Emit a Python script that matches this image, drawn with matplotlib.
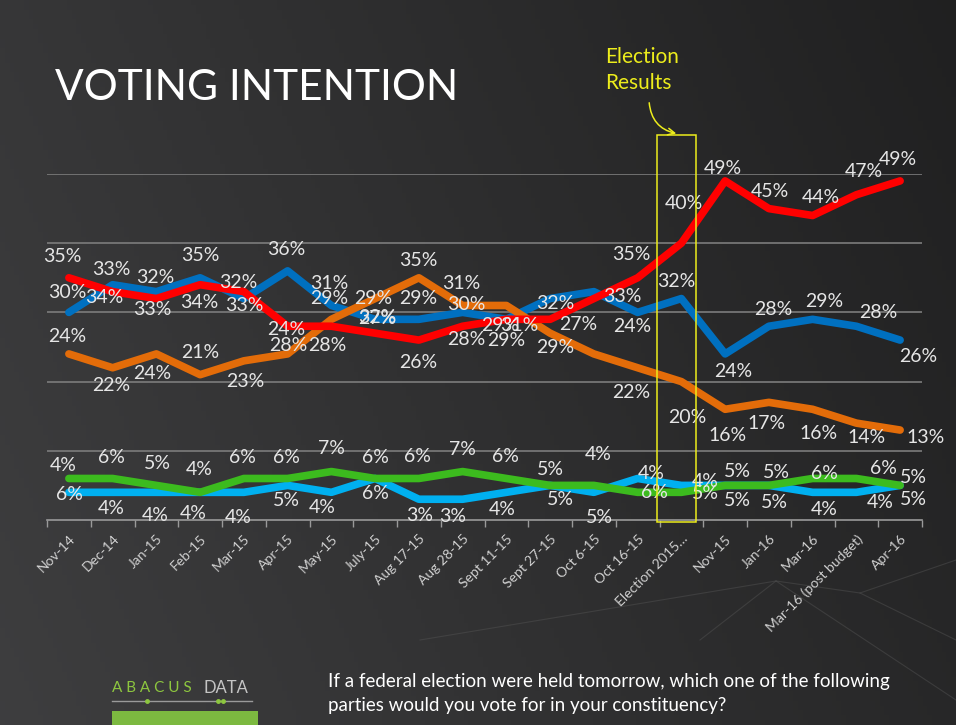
import numpy as np
import matplotlib.pyplot as plt
from matplotlib.patches import Rectangle, FancyArrowPatch

# Voting intention, Nov-14 to Apr-16 (percent)
categories = ["Nov-14", "Dec-14", "Jan-15", "Feb-15", "Mar-15", "Apr-15", "May-15",
              "July-15", "Aug 17-15", "Aug 28-15", "Sept 11-15", "Sept 27-15",
              "Oct 6-15", "Oct 16-15", "Election 2015…", "Nov-15", "Jan-16",
              "Mar-16", "Mar-16 (post budget)", "Apr-16"]
liberal = [35, 33, 32, 34, 33, 28, 28, 27, 26, 28, 29, 29, 32, 35, 40, 49, 45, 44, 47, 49]
conservative = [30, 34, 33, 35, 32, 36, 31, 29, 29, 30, 29, 32, 33, 30, 32, 24, 28, 29, 28, 26]
ndp = [24, 22, 24, 21, 23, 24, 29, 32, 35, 31, 31, 27, 24, 22, 20, 16, 17, 16, 14, 13]
green = [6, 6, 5, 4, 6, 6, 7, 6, 6, 7, 6, 5, 5, 4, 4, 5, 5, 6, 6, 5]
bloc = [4, 4, 4, 4, 4, 5, 4, 6, 3, 3, 4, 5, 4, 6, 5, 5, 5, 4, 4, 5]

# data label offsets in pixels (dx, dy down), None = no label shown
liberal_off = [(-7, -21), (-1, -22), (-1, -21), (-1, 18), (0, 14), (1, 19), (-4, 19), (2, -15),
               (-1, 22), (4, 13), (0, 21), (5, 28), None, (-6, -23), (3, -40), (-2, -12),
               (1, -17), (8, -18), (7, -23), (-2, -21)]
conservative_off = [(-2, -20), (-8, 13), (-4, 18), (0, -22), (-6, -16), (-1, -21), (-2, -22),
                    (-2, -21), (-1, -21), (4, -8), (-6, 6), (5, 5), (28, 5), None, (-5, -17),
                    (8, 18), (4, -17), (12, -18), (22, -14), (18, 16)]
ndp_off = [(-2, -17), (-1, 18), (-4, 20), (0, -22), (1, 21), (-1, -24), (-2, -21), (2, 19),
           (-1, -17), (-1, -22), (13, 20), (28, -9), (38, -27), (-6, 25), (6, 36), (2, 26),
           (-2, 21), (6, 24), (10, 14), (25, 7)]
green_off = [(1, 16), (-1, -21), (1, -22), (-1, -23), (-1, -21), (-1, -21), (0, -23), (0, -21),
             (-1, -22), (0, -22), (-1, -22), (0, -16), (6, 32), (14, -19), (24, -11), (12, -14),
             (8, -13), (12, -5), (27, -10), (13, -8)]
bloc_off = [(-6, -27), (-1, 16), (-1, 23), (-7, 21), (-6, 25), (-1, 15), (-9, 15), (0, 15),
            (1, 16), (-10, 17), (-4, 17), (10, 14), (4, -38), (17, 14), (24, 8), (12, 15),
            (6, 17), (12, 17), (24, 10), (13, 14)]

W, H = 956, 725
fig = plt.figure(figsize=(W / 100, H / 100), dpi=100)

# background (pixel coordinates)
bg = fig.add_axes([0, 0, 1, 1])
xx, yy = np.meshgrid(np.linspace(0, 1, 200), np.linspace(0, 1, 150))
t = 0.75 * xx + 0.25 * (1 - yy)
shade = (62 - 30 * t) / 255
bg.imshow(np.dstack([shade, shade, shade * 1.02]).clip(0, 1), extent=[0, W, H, 0], aspect='auto')
bg.set_xlim(0, W)
bg.set_ylim(H, 0)
bg.axis('off')

# faint decorative lines at the bottom
for seg in [[(420, 640), (776, 581), (956, 700)], [(700, 640), (776, 581)],
            [(860, 593), (956, 560)], [(776, 581), (860, 593), (956, 640)]]:
    px, py = zip(*seg)
    bg.plot(px, py, color='#555555', lw=0.8, alpha=0.45)

font = ['Lato', 'DejaVu Sans']

bg.text(55, 88, "VOTING INTENTION", fontsize=30.5, color='white', va='center', ha='left',
        family=font)

# chart
ax = fig.add_axes([47 / W, 1 - 520 / H, 875 / W, 346 / H])
ax.patch.set_visible(False)
ax.set_xlim(-0.5, len(categories) - 0.5)
ax.set_ylim(0, 50)
ax.set_yticks([10, 20, 30, 40, 50])
ax.yaxis.grid(True, color='#7c7c7c', lw=1.2)
ax.tick_params(axis='y', length=0, labelleft=False)
for s in ['top', 'right', 'left']:
    ax.spines[s].set_visible(False)
ax.spines['bottom'].set_color('#9a9a9a')
ax.spines['bottom'].set_linewidth(1.2)

x = np.arange(len(categories))
ax.set_xticks(x)
ax.set_xticklabels(categories, rotation=45, ha='right', rotation_mode='anchor',
                   fontsize=10, color='#d0d0d0', family=font)
ax.tick_params(axis='x', which='major', length=0, pad=9)
ax.set_xticks(np.arange(-0.5, len(categories), 1), minor=True)
ax.tick_params(axis='x', which='minor', length=5, color='#9a9a9a', width=1)

series = [(bloc, bloc_off, '#00b0f0'), (green, green_off, '#3cbb1e'),
          (conservative, conservative_off, '#0070c0'), (ndp, ndp_off, '#e36c09'),
          (liberal, liberal_off, '#ff0000')]
for vals, offs, col in series:
    ax.plot(x, vals, color=col, lw=5.5, solid_capstyle='round', solid_joinstyle='round',
            zorder=3, clip_on=False)
for vals, offs, col in series:
    for i, (v, off) in enumerate(zip(vals, offs)):
        if off is None:
            continue
        ax.annotate(f"{v}%", (i, v), xytext=(off[0], -off[1]), textcoords='offset pixels',
                    ha='center', va='center', fontsize=14, color='#e6e6e6', family=font,
                    zorder=6, annotation_clip=False)

# election results box + callout
yellow = '#eded1c'
ax.add_patch(Rectangle((13.44, -0.3), 0.89, 55.9, fill=False, edgecolor=yellow, lw=1.1,
                       zorder=7, clip_on=False))
bg.text(605, 57, "Election", fontsize=15, color=yellow, va='center', ha='left', family=font)
bg.text(605, 83, "Results", fontsize=15, color=yellow, va='center', ha='left', family=font)
arrow = FancyArrowPatch((649, 100), (679, 134), connectionstyle='arc3,rad=0.4',
                        arrowstyle='->', mutation_scale=12, color=yellow, lw=1.1,
                        transform=bg.transData)
fig.patches.append(arrow)

# footer
bg.text(328, 682, "If a federal election were held tomorrow, which one of the following",
        fontsize=13.5, color='white', va='center', ha='left', family=font)
bg.text(328, 705, "parties would you vote for in your constituency?",
        fontsize=13.5, color='white', va='center', ha='left', family=font)

bg.text(112, 688, "A B A C U S", fontsize=11, color='#8dc63f', va='center', ha='left',
        family=font)
bg.text(204, 688, "DATA", fontsize=12, color='#c4c4c4', va='center', ha='left', family=font)
bg.plot([112, 252], [701, 701], color='#9a9a9a', lw=1)
bg.plot([147, 218, 223], [701, 701, 701], 'o', color='#8dc63f', ms=2.5)
bg.add_patch(Rectangle((112, 711), 146, 14, color='#7cb940', lw=0))

fig.savefig('out.png', dpi=100)
